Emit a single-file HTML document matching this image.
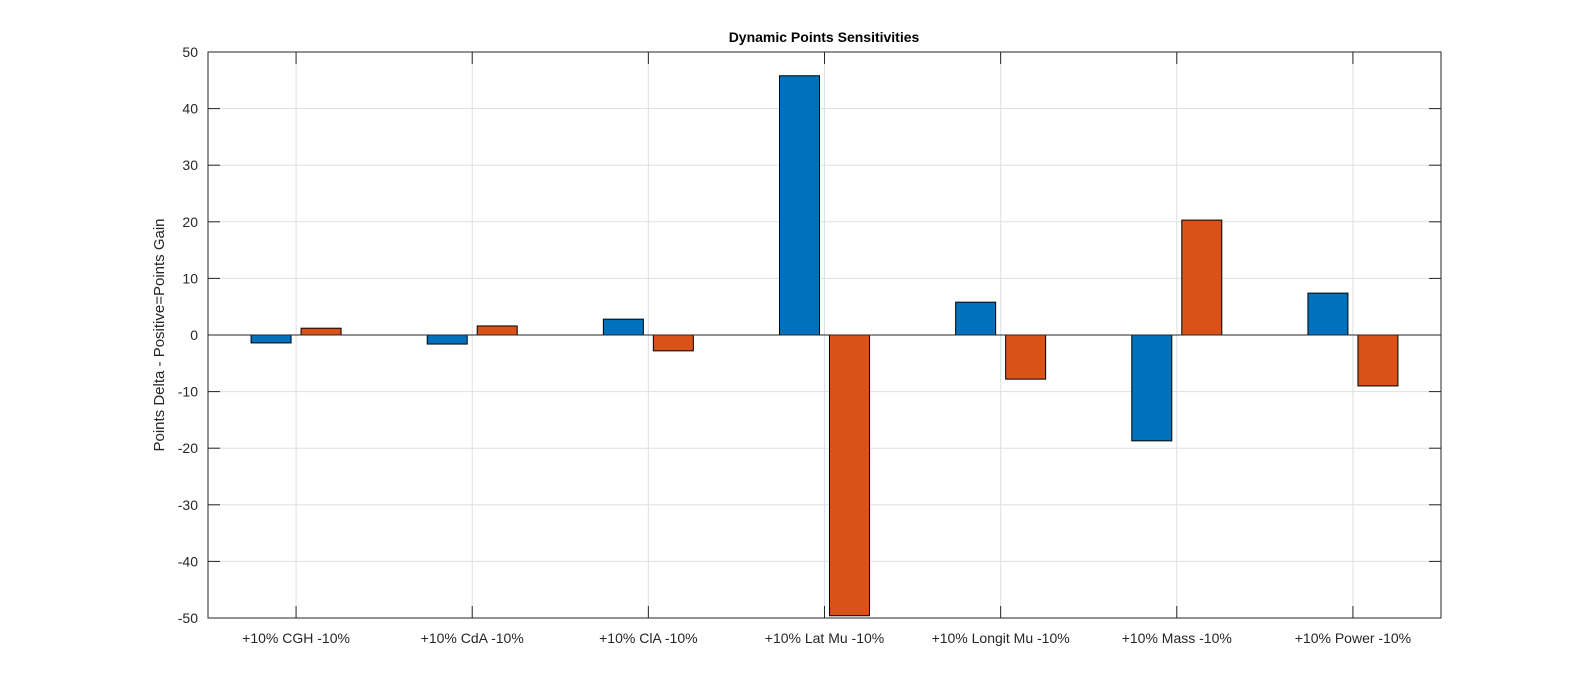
<!DOCTYPE html>
<html><head><meta charset="utf-8"><style>
html,body{margin:0;padding:0;background:#fff;}
svg{display:block;font-family:"Liberation Sans",Arial,sans-serif;}
</style></head><body>
<svg id="chart" width="1592" height="695" viewBox="0 0 1592 695">
<rect x="0" y="0" width="1592" height="695" fill="#fff"/>
<g id="grid"></g>
<g id="bars"></g>
<g id="axes"></g>
<text x="824" y="42" text-anchor="middle" font-size="14" font-weight="bold" fill="#000">Dynamic Points Sensitivities</text>
<text transform="translate(164,335) rotate(-90)" text-anchor="middle" font-size="15" fill="#262626">Points Delta - Positive=Points Gain</text>
</svg>
<script>
const categories = ["+10% CGH -10%","+10% CdA -10%","+10% ClA -10%","+10% Lat Mu -10%","+10% Longit Mu -10%","+10% Mass -10%","+10% Power -10%"];
const seriesPlus = [-1.4, -1.6, 2.8, 45.8, 5.8, -18.7, 7.4];
const seriesMinus = [1.2, 1.6, -2.8, -49.6, -7.8, 20.3, -9.0];
const yTicks = [-50,-40,-30,-20,-10,0,10,20,30,40,50];

const NS="http://www.w3.org/2000/svg";
const L=208,R=1441,T=52,B=618,yMin=-50,yMax=50;
const band=(R-L)/categories.length;
function xC(i){return L+band*(i+0.5);}
function yS(v){return B-(v-yMin)/(yMax-yMin)*(B-T);}
function mk(tag,attrs,parent){const e=document.createElementNS(NS,tag);for(const k in attrs)e.setAttribute(k,attrs[k]);parent.appendChild(e);return e;}
const grid=document.getElementById('grid'),bars=document.getElementById('bars'),axes=document.getElementById('axes');

yTicks.forEach(v=>{
  const y=yS(v);
  const g=mk('line',{x1:L,x2:R,y1:y,y2:y,stroke:'#dfdfdf','stroke-width':1},grid);
  
  
  const t=mk('line',{x1:L,x2:L+12,y1:y,y2:y,stroke:'#262626','stroke-width':1},axes);
  
  
  const tr=mk('line',{x1:R-12,x2:R,y1:y,y2:y,stroke:'#262626','stroke-width':1},axes);
  
  
  const lb=mk('text',{x:198,y:y+5,'text-anchor':'end','font-size':14,fill:'#262626'},axes);
  lb.textContent=v;
  
  
});
categories.forEach((c,i)=>{
  const x=xC(i);
  const g=mk('line',{x1:x,x2:x,y1:T,y2:B,stroke:'#dfdfdf','stroke-width':1},grid);
  
  
  const t=mk('line',{x1:x,x2:x,y1:B-12,y2:B,stroke:'#262626','stroke-width':1},axes);
  
  
  const tt=mk('line',{x1:x,x2:x,y1:T,y2:T+12,stroke:'#262626','stroke-width':1},axes);
  
  
  const lb=mk('text',{x:x,y:643,'text-anchor':'middle','font-size':14,fill:'#262626'},axes);
  lb.textContent=c;
  
  
  const y0=yS(0);
  [[seriesPlus[i],-45,'#0072bd','bar-plus10'],[seriesMinus[i],5,'#d95319','bar-minus10']].forEach(([v,off,col,nm])=>{
    const yv=yS(v);
    const r=mk('rect',{x:x+off,y:Math.min(yv,y0),width:40,height:Math.abs(yv-y0),fill:col,stroke:'#000','stroke-width':1},bars);
    
    
  });
});
const z=mk('line',{x1:L,x2:R,y1:yS(0),y2:yS(0),stroke:'#262626','stroke-width':1},axes);


const box=mk('rect',{x:L,y:T,width:R-L,height:B-T,fill:'none',stroke:'#262626','stroke-width':1},axes);


</script>
</body></html>
